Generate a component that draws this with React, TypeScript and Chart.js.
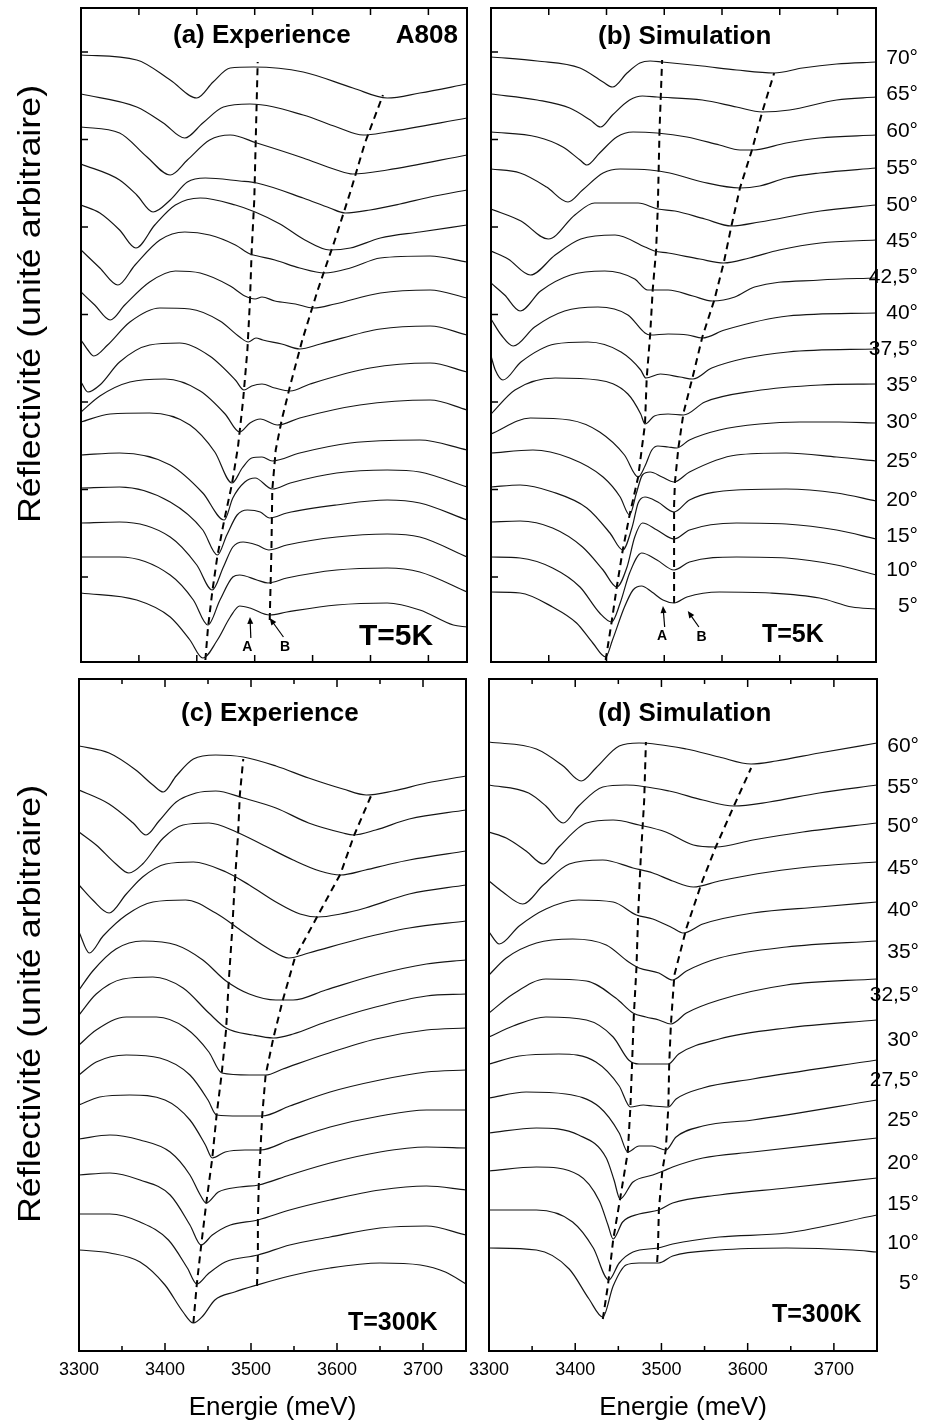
import React, { useEffect, useRef } from 'react';
import { Chart, registerables } from 'chart.js';

Chart.register(...registerables);

const PAGE_W = 941;
const PAGE_H = 1423;
const FONT = '"Liberation Sans", Arial, Helvetica, sans-serif';

// ---------------- Panel (a) : Experience, T=5K ----------------
const anglesA = ['70°', '65°', '60°', '55°', '50°', '45°', '42,5°', '40°', '37,5°', '35°', '30°', '25°', '20°', '15°', '10°', '5°'];
const energiesA: number[][] = [
  [3300, 3365, 3404, 3435, 3454, 3474, 3501, 3559, 3617, 3657, 3695, 3750],
  [3300, 3365, 3396, 3421, 3442, 3466, 3497, 3559, 3598, 3629, 3657, 3750],
  [3300, 3345, 3377, 3404, 3424, 3450, 3474, 3505, 3559, 3598, 3617, 3657, 3750],
  [3300, 3345, 3365, 3384, 3404, 3424, 3445, 3485, 3505, 3559, 3590, 3608, 3637, 3672, 3707, 3750],
  [3300, 3322, 3345, 3364, 3386, 3410, 3439, 3480, 3503, 3532, 3561, 3590, 3614, 3649, 3695, 3750],
  [3300, 3322, 3343, 3363, 3392, 3421, 3450, 3480, 3497, 3506, 3526, 3555, 3584, 3614, 3649, 3707, 3750],
  [3300, 3316, 3334, 3351, 3380, 3410, 3439, 3474, 3491, 3503, 3511, 3526, 3550, 3571, 3596, 3649, 3707, 3750],
  [3300, 3308, 3315, 3331, 3357, 3392, 3427, 3462, 3485, 3495, 3504, 3512, 3534, 3555, 3579, 3649, 3707, 3750],
  [3300, 3308, 3322, 3345, 3380, 3415, 3450, 3480, 3490, 3499, 3511, 3526, 3544, 3567, 3637, 3707, 3750],
  [3300, 3322, 3357, 3398, 3439, 3468, 3485, 3497, 3509, 3529, 3555, 3625, 3707, 3750],
  [3300, 3334, 3380, 3427, 3456, 3476, 3488, 3499, 3511, 3523, 3555, 3614, 3695, 3750],
  [3300, 3345, 3404, 3442, 3467, 3477, 3491, 3503, 3523, 3544, 3598, 3657, 3695, 3750],
  [3300, 3345, 3404, 3442, 3459, 3470, 3482, 3494, 3509, 3520, 3540, 3598, 3657, 3695, 3750],
  [3300, 3345, 3404, 3435, 3453, 3466, 3477, 3489, 3505, 3519, 3540, 3598, 3657, 3695, 3750],
  [3300, 3345, 3404, 3431, 3448, 3462, 3477, 3485, 3505, 3518, 3540, 3598, 3657, 3695, 3750],
  [3300, 3365, 3404, 3427, 3442, 3459, 3474, 3485, 3497, 3520, 3540, 3598, 3657, 3695, 3734, 3750],
];
const reflA: number[][] = [
  [607, 602, 582, 564, 580, 594, 595, 590, 574, 564, 569, 578],
  [568, 555, 539, 524, 539, 555, 558, 547, 535, 527, 530, 544],
  [535, 529, 505, 487, 502, 522, 527, 519, 504, 492, 488, 492, 507],
  [498, 482, 467, 450, 462, 480, 484, 481, 479, 464, 454, 449, 452, 458, 465, 472],
  [457, 449, 432, 414, 437, 457, 464, 457, 450, 438, 422, 412, 414, 424, 430, 437],
  [412, 394, 377, 397, 422, 430, 427, 417, 408, 406, 402, 394, 389, 394, 404, 406, 400],
  [370, 357, 342, 357, 380, 391, 389, 376, 366, 363, 365, 361, 358, 354, 358, 369, 372, 364],
  [322, 312, 306, 317, 340, 354, 353, 341, 325, 320, 324, 322, 318, 313, 318, 333, 336, 327],
  [280, 270, 277, 300, 317, 319, 306, 282, 272, 276, 278, 274, 271, 278, 294, 299, 290],
  [250, 266, 280, 283, 271, 248, 230, 239, 243, 237, 244, 257, 262, 252],
  [240, 248, 249, 237, 210, 179, 194, 204, 205, 201, 209, 219, 222, 212],
  [207, 209, 197, 169, 142, 164, 180, 184, 173, 179, 189, 192, 190, 175],
  [174, 175, 160, 132, 107, 127, 147, 152, 150, 144, 149, 157, 162, 159, 142],
  [139, 140, 125, 97, 72, 95, 115, 120, 117, 112, 117, 125, 128, 125, 105],
  [105, 105, 87, 62, 37, 62, 85, 87, 82, 79, 84, 92, 94, 90, 70],
  [69, 62, 45, 22, 4, 22, 45, 56, 54, 47, 50, 57, 59, 52, 37, 35],
];
const guideEnergiesA: number[][] = [
  [3445, 3448, 3453, 3459, 3467, 3476, 3483, 3489, 3494, 3497, 3499, 3502, 3504, 3506],
  [3520, 3522, 3523, 3527, 3534, 3544, 3558, 3576, 3596, 3614, 3631, 3652],
];
const guideReflA: number[][] = [
  [2, 34, 70, 106, 142, 178, 215, 262, 312, 362, 412, 462, 532, 600],
  [42, 112, 172, 212, 242, 277, 322, 372, 422, 470, 519, 567],
];

// ---------------- Panel (b) : Simulation, T=5K ----------------
const anglesB = ['70°', '65°', '60°', '55°', '50°', '45°', '42,5°', '40°', '37,5°', '35°', '30°', '25°', '20°', '15°', '10°', '5°'];
const angleLabelPosB = [604, 568, 531, 494, 457, 421, 385, 349, 313, 277, 240, 201, 162, 126, 92, 56];
const energiesB: number[][] = [
  [3300, 3354, 3404, 3431, 3442, 3459, 3474, 3486, 3500, 3547, 3587, 3631, 3664, 3704, 3750],
  [3300, 3354, 3392, 3416, 3428, 3442, 3462, 3477, 3494, 3547, 3587, 3617, 3649, 3704, 3750],
  [3300, 3354, 3384, 3404, 3412, 3427, 3447, 3466, 3494, 3529, 3567, 3591, 3605, 3645, 3684, 3750],
  [3300, 3334, 3365, 3390, 3407, 3431, 3451, 3486, 3509, 3547, 3591, 3614, 3645, 3684, 3750],
  [3300, 3335, 3367, 3398, 3421, 3472, 3495, 3515, 3550, 3581, 3614, 3685, 3750],
  [3300, 3320, 3346, 3375, 3405, 3445, 3480, 3491, 3507, 3544, 3572, 3602, 3637, 3685, 3750],
  [3300, 3316, 3334, 3358, 3393, 3433, 3468, 3483, 3507, 3536, 3559, 3585, 3608, 3685, 3750],
  [3300, 3312, 3326, 3351, 3386, 3425, 3460, 3480, 3486, 3507, 3530, 3547, 3573, 3647, 3750],
  [3300, 3305, 3314, 3335, 3375, 3413, 3452, 3475, 3481, 3498, 3521, 3536, 3558, 3647, 3750],
  [3300, 3328, 3375, 3425, 3460, 3475, 3480, 3491, 3507, 3525, 3550, 3608, 3685, 3750],
  [3300, 3346, 3392, 3427, 3456, 3472, 3480, 3488, 3495, 3507, 3517, 3532, 3567, 3614, 3661, 3707, 3750],
  [3300, 3349, 3392, 3431, 3451, 3462, 3470, 3477, 3486, 3500, 3514, 3532, 3587, 3645, 3704, 3750],
  [3300, 3334, 3372, 3412, 3439, 3454, 3465, 3472, 3480, 3495, 3514, 3532, 3587, 3645, 3704, 3750],
  [3300, 3334, 3372, 3407, 3431, 3447, 3459, 3468, 3477, 3494, 3514, 3532, 3587, 3645, 3704, 3750],
  [3300, 3334, 3372, 3404, 3427, 3441, 3451, 3462, 3476, 3494, 3514, 3532, 3587, 3645, 3704, 3750],
  [3300, 3334, 3372, 3400, 3419, 3434, 3442, 3456, 3466, 3476, 3488, 3501, 3514, 3529, 3567, 3626, 3684, 3722, 3750],
];
const reflB: number[][] = [
  [605, 601, 594, 580, 575, 589, 599, 601, 600, 596, 592, 589, 594, 598, 600],
  [568, 562, 554, 542, 535, 547, 562, 566, 565, 562, 555, 550, 552, 562, 565],
  [530, 525, 515, 502, 497, 509, 525, 530, 529, 525, 517, 512, 512, 519, 524, 527],
  [493, 489, 475, 460, 472, 489, 493, 492, 489, 480, 474, 476, 484, 489, 494],
  [453, 441, 423, 447, 459, 459, 453, 451, 443, 436, 440, 451, 457],
  [411, 403, 387, 407, 423, 427, 415, 411, 409, 403, 399, 404, 412, 419, 422],
  [379, 367, 351, 371, 387, 391, 383, 372, 372, 366, 361, 365, 375, 382, 384],
  [343, 327, 316, 335, 351, 355, 347, 329, 327, 328, 327, 324, 332, 346, 349],
  [306, 292, 282, 300, 318, 320, 310, 292, 284, 288, 285, 283, 294, 310, 313],
  [248, 272, 284, 282, 268, 248, 238, 246, 248, 247, 260, 271, 277, 278],
  [228, 244, 242, 230, 207, 185, 196, 212, 216, 215, 214, 222, 232, 238, 240, 240, 239],
  [209, 212, 204, 185, 165, 147, 169, 187, 190, 185, 180, 190, 207, 209, 205, 201],
  [175, 177, 170, 154, 129, 112, 135, 159, 165, 160, 150, 162, 172, 173, 169, 161],
  [140, 141, 134, 115, 92, 75, 95, 125, 139, 132, 123, 132, 139, 138, 132, 123],
  [105, 104, 94, 75, 49, 40, 59, 89, 109, 102, 92, 100, 105, 104, 97, 87],
  [70, 69, 55, 39, 19, 5, 22, 55, 72, 76, 70, 62, 59, 65, 70, 69, 64, 55, 53],
];
const guideEnergiesB: number[][] = [
  [3434, 3441, 3447, 3454, 3462, 3472, 3480, 3482, 3486, 3489, 3493, 3495, 3497, 3500],
  [3514, 3514, 3514, 3514, 3515, 3519, 3525, 3536, 3547, 3561, 3572, 3581, 3591, 3605, 3617, 3631],
];
const guideReflB: number[][] = [
  [2, 40, 75, 112, 147, 185, 238, 284, 327, 372, 412, 455, 532, 602],
  [59, 92, 125, 157, 180, 214, 249, 286, 325, 362, 399, 436, 474, 512, 550, 589],
];

// ---------------- Panel (c) : Experience, T=300K ----------------
const anglesC = ['60°', '55°', '50°', '45°', '40°', '35°', '32,5°', '30°', '27,5°', '25°', '20°', '15°', '10°', '5°'];
const energiesC: number[][] = [
  [3300, 3335, 3366, 3386, 3398, 3413, 3433, 3459, 3491, 3529, 3567, 3607, 3634, 3665, 3704, 3750],
  [3300, 3335, 3363, 3378, 3393, 3413, 3436, 3459, 3491, 3529, 3567, 3607, 3619, 3645, 3684, 3750],
  [3300, 3320, 3343, 3358, 3374, 3398, 3421, 3451, 3483, 3514, 3549, 3580, 3604, 3633, 3662, 3684, 3750],
  [3300, 3316, 3335, 3355, 3374, 3401, 3433, 3471, 3498, 3529, 3557, 3578, 3604, 3633, 3684, 3750],
  [3300, 3312, 3328, 3355, 3386, 3424, 3459, 3491, 3521, 3544, 3567, 3626, 3684, 3750],
  [3300, 3316, 3343, 3374, 3413, 3444, 3471, 3498, 3529, 3549, 3587, 3645, 3704, 3750],
  [3300, 3320, 3351, 3386, 3421, 3451, 3471, 3502, 3526, 3549, 3587, 3645, 3704, 3750],
  [3300, 3320, 3355, 3390, 3424, 3451, 3466, 3498, 3517, 3537, 3587, 3645, 3704, 3750],
  [3300, 3320, 3355, 3394, 3429, 3450, 3460, 3487, 3513, 3545, 3592, 3650, 3704, 3750],
  [3300, 3324, 3359, 3400, 3429, 3447, 3455, 3470, 3493, 3511, 3545, 3592, 3650, 3704, 3750],
  [3300, 3336, 3371, 3406, 3429, 3441, 3448, 3462, 3487, 3509, 3545, 3592, 3650, 3704, 3750],
  [3300, 3336, 3371, 3406, 3429, 3442, 3455, 3476, 3508, 3545, 3592, 3650, 3704, 3750],
  [3300, 3336, 3371, 3404, 3426, 3437, 3450, 3470, 3508, 3545, 3592, 3650, 3704, 3750],
  [3300, 3336, 3371, 3400, 3421, 3433, 3444, 3458, 3481, 3507, 3545, 3592, 3650, 3697, 3726, 3750],
];
const reflC: number[][] = [
  [605, 598, 581, 566, 559, 575, 592, 596, 594, 585, 573, 562, 556, 560, 568, 575],
  [561, 547, 528, 516, 530, 549, 558, 560, 553, 543, 528, 518, 516, 521, 532, 541],
  [519, 506, 487, 478, 487, 513, 526, 528, 519, 506, 491, 480, 476, 481, 487, 491, 500],
  [466, 451, 438, 457, 474, 487, 489, 479, 466, 449, 437, 434, 437, 443, 457, 466],
  [419, 398, 415, 436, 449, 451, 438, 419, 402, 393, 398, 412, 423, 430],
  [361, 380, 402, 410, 406, 391, 370, 357, 351, 351, 361, 376, 387, 391],
  [336, 357, 372, 374, 363, 338, 323, 316, 313, 317, 329, 344, 355, 357],
  [306, 321, 334, 334, 323, 299, 278, 276, 276, 282, 297, 312, 321, 323],
  [276, 289, 296, 293, 276, 251, 236, 235, 235, 245, 259, 271, 279, 281],
  [246, 254, 256, 251, 231, 206, 193, 199, 201, 201, 211, 224, 235, 241, 241],
  [212, 216, 211, 199, 176, 156, 148, 159, 164, 166, 176, 188, 199, 204, 203],
  [176, 178, 171, 156, 126, 106, 116, 126, 131, 141, 151, 161, 165, 161],
  [137, 137, 129, 111, 83, 67, 77, 89, 96, 106, 114, 123, 125, 116],
  [101, 98, 89, 66, 39, 28, 35, 51, 59, 66, 75, 83, 88, 86, 79, 67],
];
const guideEnergiesC: number[][] = [
  [3433, 3437, 3442, 3448, 3455, 3460, 3466, 3471, 3474, 3478, 3481, 3485, 3487, 3491],
  [3507, 3508, 3508, 3509, 3511, 3513, 3517, 3526, 3537, 3551, 3578, 3604, 3620, 3641],
];
const guideReflC: number[][] = [
  [28, 67, 105, 148, 193, 236, 278, 321, 368, 419, 466, 517, 556, 592],
  [65, 96, 131, 166, 201, 235, 276, 313, 351, 393, 436, 477, 516, 558],
];

// ---------------- Panel (d) : Simulation, T=300K ----------------
const anglesD = ['60°', '55°', '50°', '45°', '40°', '35°', '32,5°', '30°', '27,5°', '25°', '20°', '15°', '10°', '5°'];
const angleLabelPosD = [605, 564, 525, 483, 441, 399, 356, 311, 271, 231, 188, 147, 108, 68];
const energiesD: number[][] = [
  [3300, 3355, 3386, 3407, 3424, 3451, 3474, 3529, 3567, 3604, 3633, 3683, 3750],
  [3300, 3346, 3366, 3386, 3404, 3432, 3459, 3509, 3548, 3584, 3625, 3683, 3750],
  [3300, 3320, 3343, 3363, 3381, 3413, 3444, 3474, 3505, 3537, 3563, 3606, 3664, 3750],
  [3300, 3316, 3339, 3363, 3393, 3432, 3467, 3490, 3513, 3537, 3567, 3625, 3683, 3750],
  [3300, 3312, 3335, 3366, 3404, 3444, 3471, 3490, 3513, 3525, 3548, 3606, 3683, 3750],
  [3300, 3320, 3355, 3397, 3436, 3462, 3474, 3497, 3513, 3529, 3567, 3645, 3750],
  [3300, 3328, 3366, 3413, 3447, 3467, 3482, 3497, 3511, 3529, 3567, 3645, 3750],
  [3300, 3328, 3366, 3413, 3444, 3462, 3474, 3494, 3508, 3520, 3567, 3645, 3750],
  [3300, 3335, 3381, 3424, 3451, 3464, 3479, 3490, 3508, 3517, 3548, 3606, 3750],
  [3300, 3343, 3389, 3428, 3451, 3461, 3474, 3489, 3505, 3517, 3548, 3606, 3750],
  [3300, 3355, 3404, 3436, 3445, 3452, 3467, 3490, 3502, 3513, 3548, 3606, 3750],
  [3300, 3355, 3404, 3428, 3438, 3444, 3455, 3474, 3497, 3513, 3567, 3645, 3750],
  [3300, 3355, 3397, 3421, 3439, 3451, 3467, 3496, 3513, 3567, 3645, 3750],
  [3300, 3355, 3393, 3416, 3432, 3444, 3459, 3474, 3497, 3513, 3567, 3645, 3722, 3750],
];
const reflD: number[][] = [
  [609, 602, 585, 570, 583, 605, 608, 602, 594, 587, 590, 598, 608],
  [566, 558, 545, 528, 545, 564, 566, 560, 551, 545, 549, 558, 566],
  [519, 513, 500, 487, 504, 528, 531, 526, 519, 506, 504, 511, 519, 528],
  [470, 459, 447, 466, 487, 491, 483, 478, 470, 464, 470, 479, 485, 489],
  [419, 407, 425, 442, 451, 449, 436, 432, 423, 418, 427, 438, 444, 449],
  [376, 393, 408, 412, 406, 389, 383, 378, 371, 380, 393, 404, 410],
  [338, 357, 372, 370, 353, 338, 334, 331, 327, 338, 351, 366, 372],
  [314, 325, 334, 331, 314, 291, 287, 287, 287, 297, 312, 323, 331],
  [287, 295, 297, 289, 265, 244, 246, 245, 244, 252, 263, 272, 291],
  [253, 259, 257, 244, 218, 199, 205, 205, 201, 214, 225, 231, 251],
  [218, 223, 216, 193, 171, 152, 169, 176, 180, 184, 193, 199, 213],
  [180, 184, 176, 150, 126, 112, 129, 137, 141, 148, 156, 163, 173],
  [141, 141, 129, 103, 71, 88, 99, 103, 107, 114, 118, 136],
  [103, 101, 82, 52, 34, 65, 86, 88, 88, 95, 101, 103, 101, 99],
];
const guideEnergiesD: number[][] = [
  [3432, 3438, 3444, 3452, 3461, 3464, 3466, 3468, 3471, 3473, 3476, 3480, 3482],
  [3495, 3496, 3497, 3501, 3505, 3508, 3509, 3511, 3515, 3529, 3547, 3563, 3584, 3604],
];
const guideReflD: number[][] = [
  [32, 66, 111, 152, 199, 244, 289, 336, 383, 436, 493, 551, 609],
  [89, 103, 141, 180, 201, 244, 287, 327, 376, 423, 469, 504, 545, 583],
];

// ---------------- Axes / ticks ----------------
const energyMin = 3300;
const energyMax = 3750;
const topPanelXTicks = [3367.5, 3435, 3502.5, 3570, 3637.5, 3705];
const topPanelYTicks = [85, 172.5, 260, 347.5, 435, 522.5, 610];
const bottomPanelXTicks = [3350, 3400, 3450, 3500, 3550, 3600, 3650, 3700];
const bottomPanelXMajor = [3400, 3500, 3600, 3700];
const bottomPanelXLabels = [3300, 3400, 3500, 3600, 3700];
const yAxisTitle = 'Réflectivité (unité arbitraire)';
const xAxisTitle = 'Energie (meV)';

type TextItem = { t: string; x: number; y: number; size: number; bold?: boolean; align?: CanvasTextAlign };
type PanelDef = {
  key: string;
  box: { l: number; t: number; r: number; b: number };
  energies: number[][];
  refl: number[][];
  guideE: number[][];
  guideR: number[][];
  xTicks: number[];
  xMajor: number[];
  majorLen: number;
  minorLen: number;
  yTicks: number[];
  xLabels: number[];
  angleLabels: string[];
  anglePos: number[];
  texts: TextItem[];
  letters: { t: string; at: [number, number] }[];
  arrows: { from: [number, number]; to: [number, number] }[];
  yTitleAt?: [number, number];
  xTitleY?: number;
};

const panels: PanelDef[] = [
  {
    key: 'a',
    box: { l: 81, t: 8, r: 467, b: 662 },
    energies: energiesA, refl: reflA, guideE: guideEnergiesA, guideR: guideReflA,
    xTicks: topPanelXTicks, xMajor: topPanelXTicks, majorLen: 7, minorLen: 7,
    yTicks: topPanelYTicks, xLabels: [], angleLabels: [], anglePos: [],
    texts: [
      { t: '(a) Experience', x: 173, y: 43, size: 26, bold: true, align: 'left' },
      { t: 'A808', x: 458, y: 43, size: 26, bold: true, align: 'right' },
      { t: 'T=5K', x: 396, y: 645, size: 30, bold: true, align: 'center' },
    ],
    letters: [{ t: 'A', at: [3494, 15] }, { t: 'B', at: [3538, 15] }],
    arrows: [{ from: [3498, 24], to: [3497, 45] }, { from: [3536, 25], to: [3520, 44] }],
    yTitleAt: [40, 304],
  },
  {
    key: 'b',
    box: { l: 491, t: 8, r: 876, b: 662 },
    energies: energiesB, refl: reflB, guideE: guideEnergiesB, guideR: guideReflB,
    xTicks: topPanelXTicks, xMajor: topPanelXTicks, majorLen: 7, minorLen: 7,
    yTicks: topPanelYTicks, xLabels: [], angleLabels: anglesB, anglePos: angleLabelPosB,
    texts: [
      { t: '(b) Simulation', x: 598, y: 44, size: 26, bold: true, align: 'left' },
      { t: 'T=5K', x: 762, y: 642, size: 25, bold: true, align: 'left' },
    ],
    letters: [{ t: 'A', at: [3500, 26] }, { t: 'B', at: [3546, 25] }],
    arrows: [{ from: [3503, 35], to: [3501, 56] }, { from: [3543, 35], to: [3530, 51] }],
  },
  {
    key: 'c',
    box: { l: 79, t: 679, r: 466, b: 1351 },
    energies: energiesC, refl: reflC, guideE: guideEnergiesC, guideR: guideReflC,
    xTicks: bottomPanelXTicks, xMajor: bottomPanelXMajor, majorLen: 8, minorLen: 5,
    yTicks: [], xLabels: bottomPanelXLabels, angleLabels: [], anglePos: [],
    texts: [
      { t: '(c) Experience', x: 181, y: 721, size: 26, bold: true, align: 'left' },
      { t: 'T=300K', x: 348, y: 1330, size: 25, bold: true, align: 'left' },
    ],
    letters: [], arrows: [],
    yTitleAt: [40, 1004],
    xTitleY: 1415,
  },
  {
    key: 'd',
    box: { l: 489, t: 679, r: 877, b: 1351 },
    energies: energiesD, refl: reflD, guideE: guideEnergiesD, guideR: guideReflD,
    xTicks: bottomPanelXTicks, xMajor: bottomPanelXMajor, majorLen: 8, minorLen: 5,
    yTicks: [], xLabels: bottomPanelXLabels, angleLabels: anglesD, anglePos: angleLabelPosD,
    texts: [
      { t: '(d) Simulation', x: 598, y: 721, size: 26, bold: true, align: 'left' },
      { t: 'T=300K', x: 772, y: 1322, size: 25, bold: true, align: 'left' },
    ],
    letters: [], arrows: [],
    xTitleY: 1415,
  },
];

function makeDecor(p: PanelDef) {
  return {
    id: 'decor_' + p.key,
    afterDraw(chart: any) {
      const ctx = chart.ctx as CanvasRenderingContext2D;
      const xs = chart.scales.x;
      const ys = chart.scales.y;
      const { left, right, top, bottom } = chart.chartArea;
      ctx.save();
      ctx.strokeStyle = '#000';
      ctx.fillStyle = '#000';
      // inward ticks
      ctx.lineWidth = 1.5;
      ctx.beginPath();
      p.xTicks.forEach((v) => {
        const x = xs.getPixelForValue(v);
        const len = p.xMajor.includes(v) ? p.majorLen : p.minorLen;
        ctx.moveTo(x, bottom);
        ctx.lineTo(x, bottom - len);
        ctx.moveTo(x, top);
        ctx.lineTo(x, top + len);
      });
      p.yTicks.forEach((v) => {
        const y = ys.getPixelForValue(v);
        ctx.moveTo(left, y);
        ctx.lineTo(left + 7, y);
      });
      ctx.stroke();
      // frame
      ctx.lineWidth = 2;
      ctx.strokeRect(left, top, right - left, bottom - top);
      // x tick labels
      ctx.font = `18px ${FONT}`;
      ctx.textAlign = 'center';
      ctx.textBaseline = 'alphabetic';
      p.xLabels.forEach((v) => ctx.fillText(String(v), xs.getPixelForValue(v), bottom + 24));
      // angle labels (right side)
      ctx.font = `21px ${FONT}`;
      ctx.textAlign = 'right';
      ctx.textBaseline = 'middle';
      p.angleLabels.forEach((s, i) => ctx.fillText(s, right + 42, ys.getPixelForValue(p.anglePos[i])));
      // in-panel texts
      ctx.textBaseline = 'alphabetic';
      p.texts.forEach((t) => {
        ctx.font = `${t.bold ? 'bold ' : ''}${t.size}px ${FONT}`;
        ctx.textAlign = t.align || 'left';
        ctx.fillText(t.t, t.x, t.y);
      });
      // A / B letters
      ctx.font = `bold 14px ${FONT}`;
      ctx.textAlign = 'center';
      ctx.textBaseline = 'middle';
      p.letters.forEach((l) => ctx.fillText(l.t, xs.getPixelForValue(l.at[0]), ys.getPixelForValue(l.at[1])));
      // arrows
      ctx.lineWidth = 1.2;
      p.arrows.forEach((a) => {
        const x0 = xs.getPixelForValue(a.from[0]);
        const y0 = ys.getPixelForValue(a.from[1]);
        const x1 = xs.getPixelForValue(a.to[0]);
        const y1 = ys.getPixelForValue(a.to[1]);
        const ang = Math.atan2(y1 - y0, x1 - x0);
        ctx.beginPath();
        ctx.moveTo(x0, y0);
        ctx.lineTo(x1 - 4 * Math.cos(ang), y1 - 4 * Math.sin(ang));
        ctx.stroke();
        ctx.beginPath();
        ctx.moveTo(x1, y1);
        ctx.lineTo(x1 - 7 * Math.cos(ang) + 3 * Math.sin(ang), y1 - 7 * Math.sin(ang) - 3 * Math.cos(ang));
        ctx.lineTo(x1 - 7 * Math.cos(ang) - 3 * Math.sin(ang), y1 - 7 * Math.sin(ang) + 3 * Math.cos(ang));
        ctx.closePath();
        ctx.fill();
      });
      // axis titles
      if (p.yTitleAt) {
        ctx.save();
        ctx.translate(p.yTitleAt[0], p.yTitleAt[1]);
        ctx.rotate(-Math.PI / 2);
        ctx.scale(1.12, 1);
        ctx.font = `32px ${FONT}`;
        ctx.textAlign = 'center';
        ctx.textBaseline = 'alphabetic';
        ctx.fillText(yAxisTitle, 0, 0);
        ctx.restore();
      }
      if (p.xTitleY) {
        ctx.font = `26px ${FONT}`;
        ctx.textAlign = 'center';
        ctx.textBaseline = 'alphabetic';
        ctx.fillText(xAxisTitle, (left + right) / 2, p.xTitleY);
      }
      ctx.restore();
    },
  };
}

function buildConfig(p: PanelDef): any {
  const curveSets = p.energies.map((es, i) => ({
    data: es.map((e, j) => ({ x: e, y: p.refl[i][j] })),
    borderColor: '#151515',
    borderWidth: 1.2,
    pointRadius: 0,
    fill: false,
    cubicInterpolationMode: 'monotone',
    tension: 0.4,
  }));
  const guideSets = p.guideE.map((es, i) => ({
    data: es.map((e, j) => ({ x: e, y: p.guideR[i][j] })),
    borderColor: '#000',
    borderWidth: 2,
    borderDash: [7, 5],
    pointRadius: 0,
    fill: false,
    tension: 0,
  }));
  return {
    type: 'line',
    data: { datasets: [...curveSets, ...guideSets] },
    options: {
      responsive: false,
      animation: false,
      devicePixelRatio: 1,
      events: [],
      layout: { padding: { left: p.box.l, top: p.box.t, right: PAGE_W - p.box.r, bottom: PAGE_H - p.box.b } },
      scales: {
        x: { type: 'linear', min: energyMin, max: energyMax, display: false },
        y: { type: 'linear', min: 0, max: p.box.b - p.box.t, display: false },
      },
      plugins: { legend: { display: false }, tooltip: { enabled: false }, title: { display: false } },
    },
    plugins: [makeDecor(p)],
  };
}

function PanelCanvas({ panel }: { panel: PanelDef }) {
  const ref = useRef<HTMLCanvasElement>(null);
  useEffect(() => {
    if (!ref.current) return;
    const chart = new Chart(ref.current, buildConfig(panel));
    return () => chart.destroy();
  }, [panel]);
  return (
    <canvas
      ref={ref}
      width={PAGE_W}
      height={PAGE_H}
      style={{ position: 'absolute', left: 0, top: 0, width: PAGE_W, height: PAGE_H }}
    />
  );
}

export default function App() {
  return (
    <div style={{ position: 'absolute', left: 0, top: 0, width: PAGE_W, height: PAGE_H, background: '#fff', overflow: 'hidden' }}>
      {panels.map((p) => (
        <PanelCanvas key={p.key} panel={p} />
      ))}
    </div>
  );
}
